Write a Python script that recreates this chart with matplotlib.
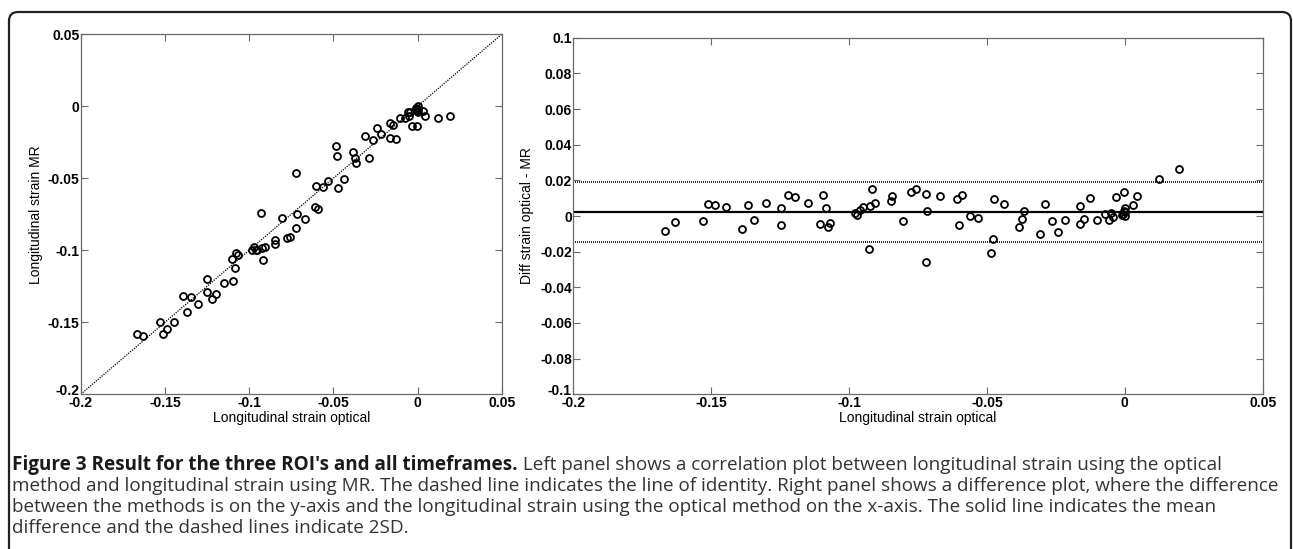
import numpy as np
import matplotlib
matplotlib.use('Agg')
import matplotlib.pyplot as plt
import matplotlib.transforms as mtransforms
from matplotlib.patches import FancyBboxPatch

# values (optical strain, MR strain, optical - MR)
optical = [-0.1668, -0.1630, -0.1529, -0.1510, -0.1485, -0.1445, -0.1390, -0.1367,
           -0.1345, -0.1301, -0.1248, -0.1248, -0.1220, -0.1195, -0.1149, -0.1104,
           -0.1096, -0.1083, -0.1077, -0.1068, -0.0980, -0.0971, -0.0961, -0.0951,
           -0.0929, -0.0923, -0.0916, -0.0906, -0.0847, -0.0844, -0.0805, -0.0776,
           -0.0756, -0.0722, -0.0718, -0.0721, -0.0670, -0.0607, -0.0601, -0.0592,
           -0.0561, -0.0531, -0.0485, -0.0479, -0.0473, -0.0437, -0.0384, -0.0374,
           -0.0364, -0.0309, -0.0289, -0.0263, -0.0242, -0.0216, -0.0164, -0.0164,
           -0.0148, -0.0126, -0.0102, -0.0072, -0.0059, -0.0050, -0.0042, -0.0031,
           -0.0011, -0.0005, -0.0002, 0.0001, -0.0003, 0.0002, 0.0000, 0.0030,
           0.0044, 0.0123, 0.0195]
strain_mr = [-0.1582, -0.1596, -0.1501, -0.1579, -0.1545, -0.1497, -0.1315, -0.1431,
             -0.1324, -0.1376, -0.1291, -0.1199, -0.1340, -0.1303, -0.1224, -0.1061,
             -0.1216, -0.1126, -0.1017, -0.1031, -0.0999, -0.0977, -0.0996, -0.1000,
             -0.0742, -0.0981, -0.1069, -0.0977, -0.0931, -0.0958, -0.0779, -0.0912,
             -0.0907, -0.0845, -0.0748, -0.0463, -0.0784, -0.0702, -0.0550, -0.0712,
             -0.0561, -0.0522, -0.0279, -0.0348, -0.0568, -0.0504, -0.0320, -0.0357,
             -0.0394, -0.0208, -0.0356, -0.0233, -0.0152, -0.0195, -0.0218, -0.0119,
             -0.0133, -0.0227, -0.0078, -0.0083, -0.0038, -0.0065, -0.0038, -0.0139,
             -0.0015, -0.0016, -0.0138, -0.0042, -0.0033, 0.0002, -0.0020, -0.0034,
             -0.0068, -0.0084, -0.0067]
diff = [-0.0086, -0.0034, -0.0028, 0.0069, 0.0060, 0.0052, -0.0075, 0.0064,
        -0.0021, 0.0075, 0.0043, -0.0049, 0.0120, 0.0108, 0.0075, -0.0043,
        0.0120, 0.0043, -0.0060, -0.0037, 0.0019, 0.0006, 0.0035, 0.0049,
        -0.0187, 0.0058, 0.0153, 0.0071, 0.0084, 0.0114, -0.0026, 0.0136,
        0.0151, 0.0123, 0.0030, -0.0258, 0.0114, 0.0095, -0.0051, 0.0120,
        0.0000, -0.0009, -0.0206, -0.0131, 0.0095, 0.0067, -0.0064, -0.0017,
        0.0030, -0.0101, 0.0067, -0.0030, -0.0090, -0.0021, 0.0054, -0.0045,
        -0.0015, 0.0101, -0.0024, 0.0011, -0.0021, 0.0015, -0.0004, 0.0108,
        0.0004, 0.0011, 0.0136, 0.0043, 0.0030, 0.0000, 0.0020, 0.0064,
        0.0112, 0.0207, 0.0262]

mean_diff = 0.0024
sd_upper = 0.0193
sd_lower = -0.0145

corr_ticks = [-0.2, -0.15, -0.1, -0.05, 0, 0.05]
diff_yticks = [-0.1, -0.08, -0.06, -0.04, -0.02, 0, 0.02, 0.04, 0.06, 0.08, 0.1]

xlabel = 'Longitudinal strain optical'
ylabel_left = 'Longitudinal strain MR'
ylabel_right = 'Diff strain optical - MR'

caption_head = "Figure 3 Result for the three ROI's and all timeframes."
caption_lines = [
    " Left panel shows a correlation plot between longitudinal strain using the optical",
    "method and longitudinal strain using MR. The dashed line indicates the line of identity. "
    "Right panel shows a difference plot, where the difference",
    "between the methods is on the y-axis and the longitudinal strain using the optical "
    "method on the x-axis. The solid line indicates the mean",
    "difference and the dashed lines indicate 2SD.",
]

W, H = 1293, 549
plt.rcParams['font.family'] = ['Liberation Sans', 'DejaVu Sans']
fig = plt.figure(figsize=(W / 100, H / 100), dpi=100)

spine_col = '#6a6a6a'


def fmt(v):
    return '%g' % round(v, 4)


def style_axes(ax):
    for s in ax.spines.values():
        s.set_color(spine_col)
        s.set_linewidth(0.9)
    ax.tick_params(direction='in', top=True, right=True, length=5, width=0.8,
                   color=spine_col, labelsize=10, pad=1, labelcolor='black')
    for lab in ax.get_xticklabels() + ax.get_yticklabels():
        lab.set_fontweight('bold')
    # lowest y label sits a little higher, as in the MATLAB export
    low = ax.get_yticklabels()[0]
    low.set_transform(low.get_transform() +
                      mtransforms.ScaledTranslation(0, 5 / 100, fig.dpi_scale_trans))


# left: correlation plot
ax1 = fig.add_axes([80.7 / W, 154.7 / H, 421 / W, 360 / H])
ax1.plot(corr_ticks[::len(corr_ticks) - 1], corr_ticks[::len(corr_ticks) - 1],
         linestyle=(0, (1, 1)), color='black', lw=0.9)
ax1.plot(optical, strain_mr, 'o', mfc='none', mec='black', ms=5, mew=1.3)
ax1.set_xlim(-0.2, 0.05)
ax1.set_ylim(-0.2, 0.05)
ax1.set_xticks(corr_ticks)
ax1.set_xticklabels([fmt(v) for v in corr_ticks])
ax1.set_yticks(corr_ticks)
ax1.set_yticklabels([fmt(v) for v in corr_ticks])
style_axes(ax1)
ax1.set_xlabel(xlabel, fontsize=10)
ax1.set_ylabel(ylabel_left, fontsize=10)
ax1.xaxis.set_label_coords(0.5, -0.047)
ax1.yaxis.set_label_coords(-0.09, 0.5)

# right: difference plot
ax2 = fig.add_axes([573.3 / W, 154.7 / H, 689.4 / W, 356.6 / H])
ax2.axhline(mean_diff, color='black', lw=1.6)
ax2.axhline(sd_upper, color='black', lw=1.2, linestyle=(0, (0.6, 0.6)))
ax2.axhline(sd_lower, color='black', lw=1.2, linestyle=(0, (0.6, 0.6)))
ax2.plot(optical, diff, 'o', mfc='none', mec='black', ms=5, mew=1.3)
ax2.set_xlim(-0.2, 0.05)
ax2.set_ylim(-0.1, 0.1)
ax2.set_xticks(corr_ticks)
ax2.set_xticklabels([fmt(v) for v in corr_ticks])
ax2.set_yticks(diff_yticks)
ax2.set_yticklabels([fmt(v) for v in diff_yticks])
style_axes(ax2)
ax2.set_xlabel(xlabel, fontsize=10)
ax2.set_ylabel(ylabel_right, fontsize=10)
ax2.xaxis.set_label_coords(0.5, -0.0475)
ax2.yaxis.set_label_coords(-0.057, 0.5)

# rounded frame round the figure
frame = FancyBboxPatch((9, -30), 1282, H - 12 + 30, boxstyle='round,pad=0,rounding_size=9',
                       transform=None, fill=False, edgecolor='#222222', lw=1.6,
                       clip_on=False)
fig.patches.append(frame)

# caption, fitted to the width of the second line
renderer = fig.canvas.get_renderer()
cap_font = ['Open Sans', 'DejaVu Sans']
probe = fig.text(0, 0, caption_lines[1], fontsize=10, family=cap_font)
cap_size = 10 * 1265 / probe.get_window_extent(renderer).width
probe.remove()

x0 = 12
line_y = [465, 486, 507, 528]
head = fig.text(x0 / W, 1 - line_y[0] / H, caption_head, fontsize=cap_size,
                family=cap_font, fontweight='bold', color='#1a1a1a', va='center')
hw = head.get_window_extent(renderer).width
fig.text((x0 + hw) / W, 1 - line_y[0] / H, caption_lines[0], fontsize=cap_size,
         family=cap_font, color='#333333', va='center')
for txt, y in zip(caption_lines[1:], line_y[1:]):
    fig.text(x0 / W, 1 - y / H, txt, fontsize=cap_size, family=cap_font,
             color='#333333', va='center')

fig.savefig('out.png', dpi=100)
